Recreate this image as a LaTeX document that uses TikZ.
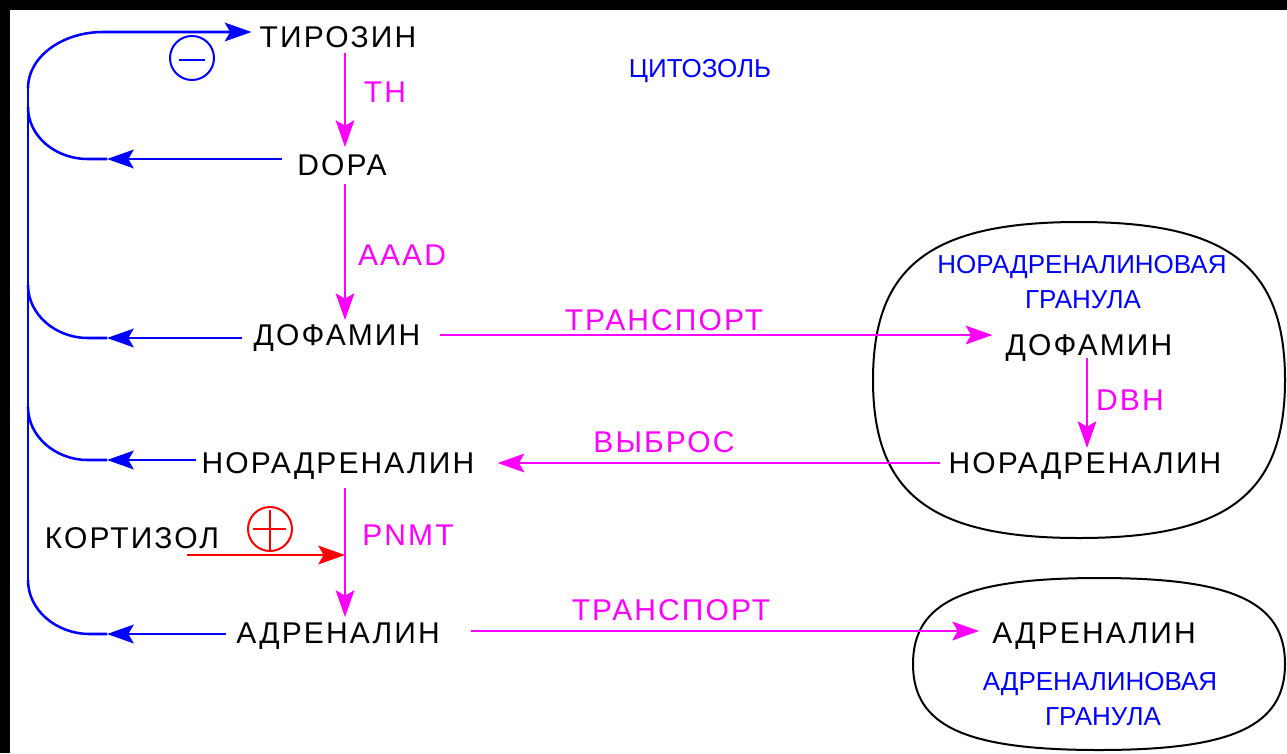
\documentclass[tikz,border=0pt]{standalone}
\usepackage{fontspec}
\setmainfont{Liberation Sans}
\newfontfamily\spacedfont[LetterSpace=7]{Liberation Sans}
\usetikzlibrary{arrows.meta,calc}
\definecolor{mag}{RGB}{255,0,255}
\definecolor{bl}{RGB}{0,0,255}
\definecolor{rd}{RGB}{255,0,0}
\begin{document}
\begin{tikzpicture}[x=0.75pt,y=-0.75pt,
  sub/.style={font=\spacedfont\fontsize{22.5}{27}\selectfont, inner sep=0pt, anchor=base, text=black},
  enz/.style={sub, text=mag},
  lbl/.style={font=\fontsize{19.5}{23}\selectfont, inner sep=0pt, anchor=base, text=bl},
  tipA/.style={-{Stealth[length=20pt,width=14pt,inset=4pt]}},
  bline/.style={draw=bl, line width=1.9pt},
  mline/.style={draw=mag, line width=1.6pt, tipA},
  rline/.style={draw=rd, line width=1.9pt, tipA},
  gran/.style={draw=black, line width=1.5pt},
  sign/.style={circle, line width=1.5pt, minimum size=33pt, inner sep=0pt}
]
\useasboundingbox (0,0) rectangle (1287,753);
\fill[white] (0,0) rectangle (1287,753);
\fill[black] (0,0) rectangle (1287,10);
\fill[black] (0,0) rectangle (10,753);

% granules (squarish ellipses)
\path[gran] (1079,222) .. controls (1227.3,222) and (1285,266.2) .. (1285,380)
  .. controls (1285,493.8) and (1227.3,538) .. (1079,538)
  .. controls (930.7,538) and (873,493.8) .. (873,380)
  .. controls (873,266.2) and (930.7,222) .. cycle;
\path[gran] (1099,578) .. controls (1233,578) and (1285,602) .. (1285,664)
  .. controls (1285,726) and (1233,750) .. (1099,750)
  .. controls (965,750) and (913,726) .. (913,664)
  .. controls (913,602) and (965,578) .. cycle;

% substances
\node[sub] (tyr) at (338,47) {ТИРОЗИН};
\node[sub] (dopa) at (342,175) {DOPA};
\node[sub] (dofL) at (337,345) {ДОФАМИН};
\node[sub] (norL) at (338,473) {НОРАДРЕНАЛИН};
\node[sub] (kort) at (132,548) {КОРТИЗОЛ};
\node[sub] (adrL) at (338,643) {АДРЕНАЛИН};
\node[sub] (dofR) at (1089,355) {ДОФАМИН};
\node[sub] (norR) at (1085,473) {НОРАДРЕНАЛИН};
\node[sub] (adrR) at (1094,643) {АДРЕНАЛИН};

% blue labels
\node[lbl] (cyt) at (700,77) {ЦИТОЗОЛЬ};
\node[lbl] (ng1) at (1082,273) {НОРАДРЕНАЛИНОВАЯ};
\node[lbl] (ng2) at (1083,308) {ГРАНУЛА};
\node[lbl] (ag1) at (1100,690) {АДРЕНАЛИНОВАЯ};
\node[lbl] (ag2) at (1103,725) {ГРАНУЛА};

% enzyme / process labels
\node[enz] (th) at (385,102) {TH};
\node[enz] (aaad) at (402,265) {AAAD};
\node[enz] (pnmt) at (408,545) {PNMT};
\node[enz] (dbh) at (1130,410) {DBH};
\node[enz] (tr1) at (664,330) {ТРАНСПОРТ};
\node[enz] (vyb) at (664,452) {ВЫБРОС};
\node[enz] (tr2) at (671,620) {ТРАНСПОРТ};

% sign circles
\node[sign, draw=bl] (minus) at (192,58) {};
\draw[bl, line width=1.5pt] ($(minus.center)+(-13,2)$) -- ($(minus.center)+(13,2)$);
\node[sign, draw=rd] (plus) at (270,529) {};
\draw[rd, line width=1.5pt] ($(plus.center)+(-17,0)$) -- ($(plus.center)+(16,0)$);
\draw[rd, line width=1.5pt] ($(plus.center)+(0,-19)$) -- ($(plus.center)+(0,23)$);

% axes
\coordinate (ax) at (345,0);
\coordinate (axr) at (1087,0);

% metabolic chain
\draw[mline] ($(tyr.base -| ax)+(0,6)$) -- ($(dopa.base -| ax)+(0,-28)$);
\draw[mline] ($(dopa.base -| ax)+(0,9)$) -- ($(dofL.base -| ax)+(0,-25)$);
\draw[mline] ($(norL.base -| ax)+(0,15)$) -- ($(adrL.base -| ax)+(0,-26)$);
\draw[mline] ($(dofL.base east)+(19,-10)$) -- ($(dofR.base west)+(-13,-20)$);
\draw[mline] ($(norR.base west)+(-8,-10)$) -- ($(norL.base east)+(23,-10)$);
\draw[mline] ($(adrL.base east)+(31,-12)$) -- ($(adrR.base west)+(-13,-12)$);
\draw[mline] ($(dofR.base -| axr)+(0,3)$) -- ($(norR.base -| axr)+(0,-25)$);

% cortisol
\coordinate (kst) at (187,555);
\draw[rline] (kst) -- (kst -| ax);

% feedback bus
\coordinate (btop) at (28,88);
\coordinate (bbot) at (28,580);
\draw[bline] (btop) -- (bbot);
\draw[bline, tipA] (btop) .. controls (28,57) and (62,32) .. (103,32) -- ($(tyr.base west)+(-8,-15)$);
\draw[bline, tipA] ($(dopa.base west)+(-15,-16)$) -- (107,159) coordinate (j1);
\draw[bline] (j1) -- (88,159) .. controls (55,159) and (28,136) .. (28,107);
\draw[bline, tipA] ($(dofL.base west)+(-11,-7)$) -- (107,338) coordinate (j2);
\draw[bline] (j2) -- (88,338) .. controls (55,338) and (28,314) .. (28,285);
\draw[bline, tipA] ($(norL.base west)+(-5,-13)$) -- (107,460) coordinate (j3);
\draw[bline] (j3) -- (88,460) .. controls (55,460) and (28,436) .. (28,407);
\draw[bline, tipA] ($(adrL.base west)+(-10,-9)$) -- (107,634) coordinate (j4);
\draw[bline] (j4) -- (90,634) .. controls (56,634) and (28,610) .. (bbot);
\end{tikzpicture}
\end{document}
